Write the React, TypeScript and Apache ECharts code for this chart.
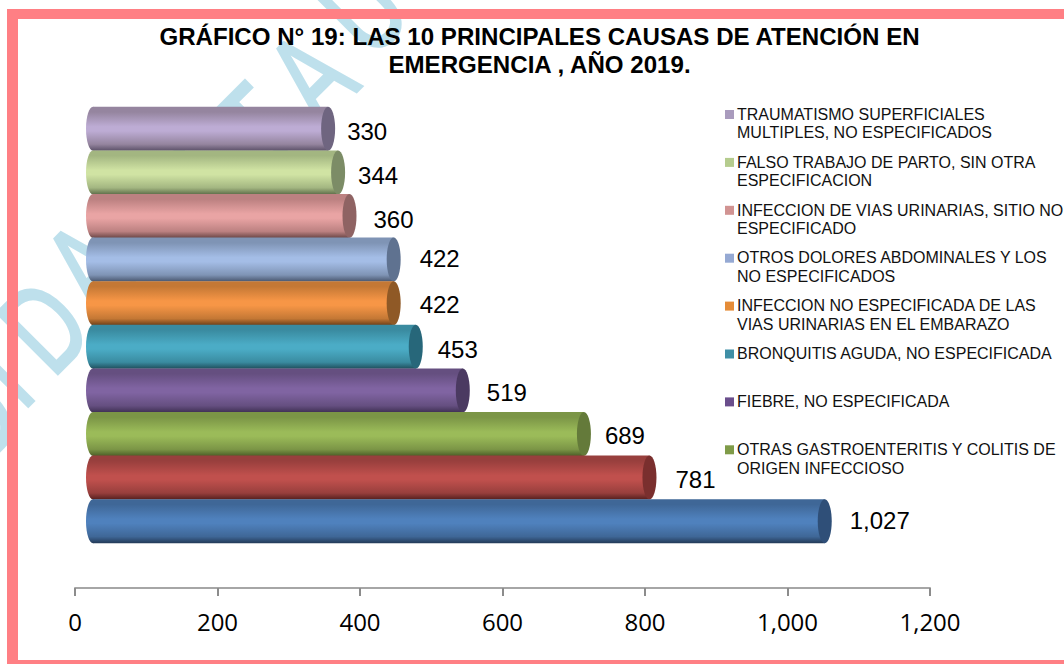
import React, { useEffect, useRef } from "react";
import * as echarts from "echarts";

const titleLines = ["GRÁFICO N° 19: LAS 10 PRINCIPALES CAUSAS DE ATENCIÓN EN", "EMERGENCIA , AÑO 2019."];
const values = [330, 344, 360, 422, 422, 453, 519, 689, 781, 1027];
const legendNames = [
  "TRAUMATISMO SUPERFICIALES\nMULTIPLES, NO ESPECIFICADOS",
  "FALSO TRABAJO DE PARTO, SIN OTRA\nESPECIFICACION",
  "INFECCION DE VIAS URINARIAS, SITIO NO\nESPECIFICADO",
  "OTROS DOLORES ABDOMINALES Y LOS\nNO ESPECIFICADOS",
  "INFECCION NO ESPECIFICADA DE LAS\nVIAS URINARIAS EN EL EMBARAZO",
  "BRONQUITIS AGUDA, NO ESPECIFICADA",
  "FIEBRE, NO ESPECIFICADA",
  "OTRAS GASTROENTERITIS Y COLITIS DE\nORIGEN INFECCIOSO",
];
const categories = legendNames.concat(["", ""]);

// styling / layout tables
const bodyColors = ["#BDACD4", "#D0E3A3", "#E9A4A4", "#A4BDE6", "#F79646", "#4BACC6", "#8064A2", "#9BBB59", "#C0504D", "#4F81BD"];
const edgeColors = ["#95859F", "#A3B681", "#BC8181", "#7F94B5", "#C47835", "#3A8BA0", "#654F80", "#7B9546", "#983F3D", "#3F6797"];
const darkColors = ["#5B5068", "#5F6E4A", "#6A4646", "#49566E", "#6E4018", "#1F4E5C", "#3F3054", "#4C5E27", "#541F1E", "#233A58"];
const capColors = ["#6F6580", "#7C8C66", "#8F6363", "#5F7290", "#8F5926", "#27677A", "#4B3A61", "#647A3A", "#7A2F2E", "#2F4F78"];
const swatchColors = ["#A99BBD", "#B5CC8E", "#D19392", "#95A9D3", "#E58C38", "#3F8FA6", "#6A4E8C", "#7F9B48"];
const labelGapX = [12, 13, 17, 19, 19, 15, 17, 14, 19, 18];
const labelShiftY = [3, 3, 3, -1, 1, 3, 2, 1, 2, -1];
const watermark: [string, number, number][] = [
  ["D", -26, 415],
  ["I", 0, 373],
  ["D", 44, 326],
  ["A", 88, 266],
  ["S", 213, 168],
  ["T", 258, 128],
  ["A", 311, 76],
  ["U", 362, 8],
];

const DEPTH = 18;
const CAP_RX = 7;
const BAR_H = 44;
const fmt = (v: number) => v.toLocaleString("en-US");

export default function App() {
  const ref = useRef<HTMLDivElement>(null);
  useEffect(() => {
    const chart = echarts.init(ref.current!, null, { renderer: "svg" });
    const legendEls: any[] = [];
    legendNames.forEach((name, i) => {
      const top = 114 + i * 47.9;
      legendEls.push({ type: "rect", shape: { x: 725, y: top - 4, width: 9, height: 9 }, style: { fill: swatchColors[i] } });
      legendEls.push({
        type: "text",
        x: 737,
        y: top - 9,
        style: { text: name, fill: "#111", font: "16px 'Liberation Sans'", lineHeight: 18.5, textVerticalAlign: "top" },
      });
    });
    const wmEls = watermark.map(([ch, x, y]) => ({
      type: "text",
      x,
      y,
      rotation: Math.PI / 4,
      scaleX: 0.7,
      style: {
        text: ch,
        fill: "#BEE0EC",
        stroke: "#BEE0EC",
        lineWidth: 3,
        font: "125px 'Liberation Sans'",
        textAlign: "center",
        textVerticalAlign: "middle",
      },
    }));
    const frameEls = [
      { type: "rect", z: 1, shape: { x: 7, y: 9, width: 1057, height: 10, r: [3, 0, 0, 0] }, style: { fill: "#FF7F84" } },
      { type: "rect", z: 1, shape: { x: 7, y: 9, width: 11, height: 655 }, style: { fill: "#FF7F84" } },
      { type: "rect", z: 1, shape: { x: 7, y: 660, width: 1057, height: 4 }, style: { fill: "#FF7F84" } },
    ];
    chart.setOption({
      animation: false,
      backgroundColor: "#fff",
      title: {
        text: titleLines.join("\n"),
        left: 534.5,
        top: 17,
        textAlign: "center",
        textStyle: { fontFamily: "'Liberation Sans'", fontWeight: "bold", fontSize: 24.1, lineHeight: 28, color: "#000" },
      },
      grid: { left: 75, right: 134, top: 107, height: 436 },
      xAxis: {
        type: "value",
        min: 0,
        max: 1200,
        interval: 200,
        offset: 45,
        splitLine: { show: false },
        axisLine: { show: true, lineStyle: { color: "#A6A6A6", width: 2 } },
        axisTick: { show: true, length: 8, lineStyle: { color: "#8C8C8C", width: 2 } },
        axisLabel: { fontFamily: "'Open Sans'", fontSize: 24, color: "#000", margin: 21, formatter: (v: number) => fmt(v) },
      },
      yAxis: { type: "category", inverse: true, data: categories, show: false },
      graphic: { elements: [...wmEls, ...frameEls, ...legendEls] },
      series: [
        {
          type: "custom",
          clip: false,
          data: values.map((v, i) => [v, i]),
          encode: { x: 0, y: 1 },
          renderItem: (params: any, api: any) => {
            const i = params.dataIndex;
            const v = api.value(0);
            const base = api.coord([0, i]);
            const end = api.coord([v, i]);
            const x0 = base[0] + DEPTH;
            const x1 = end[0] + DEPTH;
            const cy = base[1];
            const grad = new echarts.graphic.LinearGradient(0, 0, 0, 1, [
              { offset: 0, color: edgeColors[i] },
              { offset: 0.12, color: edgeColors[i] },
              { offset: 0.45, color: bodyColors[i] },
              { offset: 0.55, color: bodyColors[i] },
              { offset: 0.85, color: edgeColors[i] },
              { offset: 1, color: darkColors[i] },
            ]);
            return {
              type: "group",
              children: [
                { type: "ellipse", shape: { cx: x0, cy, rx: CAP_RX, ry: BAR_H / 2 }, style: { fill: grad } },
                { type: "rect", shape: { x: x0, y: cy - BAR_H / 2, width: x1 - x0, height: BAR_H }, style: { fill: grad } },
                { type: "ellipse", shape: { cx: x1, cy, rx: CAP_RX, ry: BAR_H / 2 }, style: { fill: capColors[i] } },
                {
                  type: "text",
                  x: x1 + CAP_RX + labelGapX[i],
                  y: cy + labelShiftY[i],
                  style: { text: fmt(v), fill: "#000", font: "24px 'Liberation Sans'", textAlign: "left", textVerticalAlign: "middle" },
                },
              ],
            };
          },
        },
      ],
    });
    return () => chart.dispose();
  }, []);
  return <div ref={ref} style={{ position: "fixed", left: 0, top: 0, width: 1064, height: 664 }} />;
}
